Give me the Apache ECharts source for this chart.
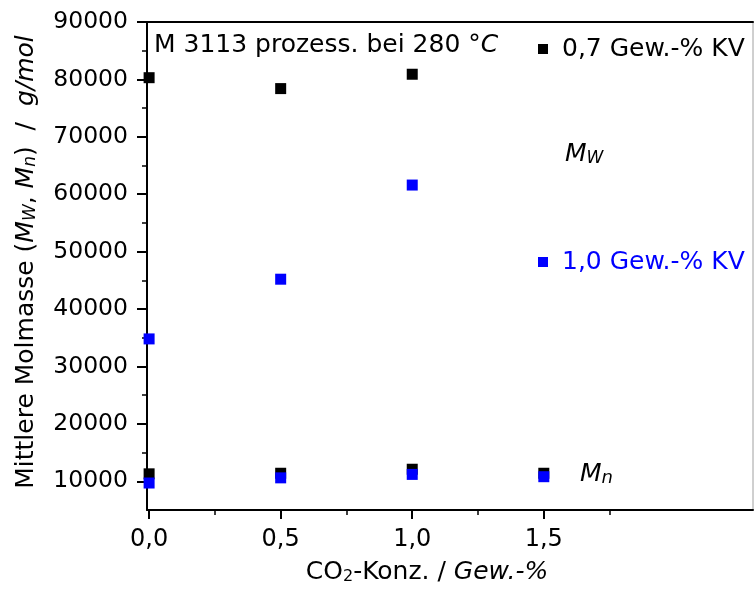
<!DOCTYPE html>
<html><head><meta charset="utf-8">
<script src="https://cdn.jsdelivr.net/npm/echarts@6/dist/echarts.min.js"></script>
<style>html,body{margin:0;padding:0;background:#fff}#c{width:754px;height:590px}</style>
</head><body><div id="c"></div>
<script>
// Data
const co2Mw = [0, 0.5, 1.0];
const co2Mn = [0, 0.5, 1.0, 1.5];
const mw07 = [80300, 78400, 80900];
const mn07 = [11300, 11400, 12100, 11400];
const mw10 = [34800, 45200, 61600];
const mn10 = [9700, 10600, 11200, 10800];
const xMajor = [0, 0.5, 1.0, 1.5];
const xMinor = [0.25, 0.75, 1.25, 1.75];
const yMajor = [10000, 20000, 30000, 40000, 50000, 60000, 70000, 80000, 90000];
const yMinor = [15000, 25000, 35000, 45000, 55000, 65000, 75000, 85000];
const name07 = '0,7 Gew.-% KV';
const name10 = '1,0 Gew.-% KV';

const FONT = 'DejaVu Sans';
const pairs = (xs, ys) => ys.map((v, i) => [xs[i], v]);

const chart = echarts.init(document.getElementById('c'), null, {renderer: 'canvas'});
const txt = (fs, italic) => ({fontFamily: FONT, fontSize: fs, fontWeight: 'normal', fontStyle: italic ? 'italic' : 'normal', color: '#000', lineHeight: 30, verticalAlign: 'bottom'});
const sub = (fs) => ({fontFamily: FONT, fontSize: fs, fontWeight: 'normal', fontStyle: 'italic', color: '#000', lineHeight: 15, verticalAlign: 'bottom'});

chart.setOption({
  animation: false,
  backgroundColor: '#fff',
  textStyle: {fontFamily: FONT},
  grid: {left: 147, right: 1, top: 22, bottom: 80, show: true, borderColor: '#a0a0a0', borderWidth: 1},
  title: {
    left: 154, top: 28, padding: 0,
    text: '{n|M 3113 prozess. bei 280 °}{i|C}',
    textStyle: {
      fontWeight: 'normal',
      rich: {n: txt(25, false), i: txt(25, true)}
    }
  },
  legend: [
    {data: [name07], left: 538, top: 34, padding: 0, icon: 'rect', itemWidth: 10, itemHeight: 10,
     textStyle: {fontFamily: FONT, fontSize: 25, color: '#000', lineHeight: 30, padding: [0, 0, 0, 9]}, selectedMode: false},
    {data: [name10], left: 538, top: 247, padding: 0, icon: 'rect', itemWidth: 10, itemHeight: 10,
     textStyle: {fontFamily: FONT, fontSize: 25, color: '#0000ff', lineHeight: 30, padding: [0, 0, 0, 9]}, selectedMode: false}
  ],
  xAxis: [
    {
      type: 'value', min: -0.008, max: 2.295, position: 'bottom',
      axisLine: {show: true, onZero: false, lineStyle: {color: '#000', width: 2}},
      axisTick: {show: true, inside: false, length: 9, customValues: xMajor, lineStyle: {color: '#000', width: 2}},
      axisLabel: {customValues: xMajor, margin: 18, fontFamily: FONT, fontSize: 24, color: '#000',
        formatter: v => v.toFixed(1).replace('.', ',')},
      splitLine: {show: false},
      name: '{n|CO}{s|2}{n|-Konz. / }{i|Gew.-%}',
      nameLocation: 'middle', nameGap: 45,
      nameTextStyle: {
        padding: [0, 46, 0, 0],
        rich: {n: txt(25, false), i: txt(25, true), s: Object.assign(sub(16), {fontStyle: 'normal'})}
      }
    },
    {
      type: 'value', min: -0.008, max: 2.295, position: 'bottom',
      axisLine: {show: false, onZero: false},
      axisTick: {show: true, length: 5, customValues: xMinor, lineStyle: {color: '#000', width: 1.5}},
      axisLabel: {show: false}, splitLine: {show: false}
    },
    {
      type: 'value', min: -0.008, max: 2.295, position: 'top',
      axisLine: {show: true, onZero: false, lineStyle: {color: '#000', width: 2}},
      axisTick: {show: false}, axisLabel: {show: false}, splitLine: {show: false}
    }
  ],
  yAxis: [
    {
      type: 'value', min: 5000, max: 90000, position: 'left',
      axisLine: {show: true, onZero: false, lineStyle: {color: '#000', width: 2}},
      axisTick: {show: true, inside: false, length: 10, customValues: yMajor, lineStyle: {color: '#000', width: 2}},
      axisLabel: {customValues: yMajor, margin: 19, fontFamily: FONT, fontSize: 23.5, color: '#000',
        formatter: v => String(v)},
      splitLine: {show: false},
      name: '{n|Mittlere Molmasse (}{i|M}{s|W}{n|, }{i|M}{s|n}{n|)  /  }{i|g/mol}',
      nameLocation: 'middle', nameGap: 108,
      nameTextStyle: {
        padding: [0, 0, 0, 8],
        rich: {n: txt(25, false), i: txt(25, true), s: sub(17)}
      }
    },
    {
      type: 'value', min: 5000, max: 90000, position: 'left',
      axisLine: {show: false, onZero: false},
      axisTick: {show: true, length: 5, customValues: yMinor, lineStyle: {color: '#000', width: 1.5}},
      axisLabel: {show: false}, splitLine: {show: false}
    }
  ],
  graphic: [
    {type: 'text', left: 565, top: 142, silent: true,
     style: {text: '{i|M}{s|W}', rich: {i: txt(25, true), s: sub(17)}}},
    {type: 'text', left: 580, top: 462, silent: true,
     style: {text: '{i|M}{s|n}', rich: {i: txt(25, true), s: sub(18)}}}
  ],
  series: [
    {name: name07, type: 'scatter', symbol: 'rect', symbolSize: 11, itemStyle: {color: '#000', opacity: 1}, data: pairs(co2Mw, mw07)},
    {name: name07, type: 'scatter', symbol: 'rect', symbolSize: 11, itemStyle: {color: '#000', opacity: 1}, data: pairs(co2Mn, mn07)},
    {name: name10, type: 'scatter', symbol: 'rect', symbolSize: 11, itemStyle: {color: '#0000ff', opacity: 1}, data: pairs(co2Mw, mw10)},
    {name: name10, type: 'scatter', symbol: 'rect', symbolSize: 11, itemStyle: {color: '#0000ff', opacity: 1}, data: pairs(co2Mn, mn10)}
  ]
});
</script>
</body></html>
